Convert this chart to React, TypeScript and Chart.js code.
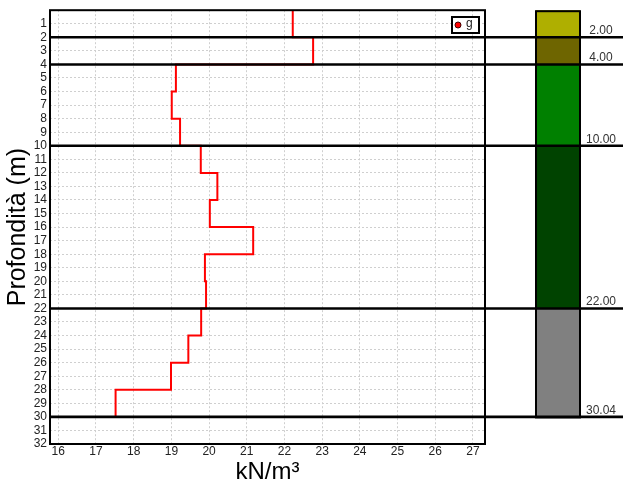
import { useEffect, useRef } from 'react';
import { Chart, registerables } from 'chart.js';

Chart.register(...registerables);

// Depth profile of unit weight (kN/m³), one value per 2 m interval
const intervalTops = [0, 2, 4, 6, 8, 10, 12, 14, 16, 18, 20, 22, 24, 26, 28];
const profileBottom = 30;
const gammaValues = [22.22, 22.76, 19.12, 19.01, 19.23, 19.78, 20.22, 20.02, 21.17, 19.89, 19.92, 19.79, 19.45, 18.99, 17.52];
const seriesLabel = 'g';

// Axes
const xMin = 15.78;
const xMax = 27.32;
const depthMin = 0;
const depthMax = 32;

// Stratigraphy column
const strataBottoms = [2, 4, 10, 22, 30.04];
const strataLabels = ['2.00', '4.00', '10.00', '22.00', '30.04'];
const strataColors = ['#AFAF00', '#6E6500', '#008000', '#004300', '#808080'];
const boundaryDepths = [2, 4, 10, 22, 30];

const FONT = 'Arial, "Liberation Sans", sans-serif';

export default function App() {
  const ref = useRef<HTMLCanvasElement | null>(null);

  useEffect(() => {
    if (!ref.current) return;

    const pts: { x: number; y: number }[] = [];
    intervalTops.forEach((top, i) => {
      const bottom = i + 1 < intervalTops.length ? intervalTops[i + 1] : profileBottom;
      pts.push({ x: gammaValues[i], y: top });
      pts.push({ x: gammaValues[i], y: bottom });
    });

    const overlay = {
      id: 'overlay',
      afterDatasetsDraw(chart: any) {
        const { ctx, chartArea, scales } = chart;
        const ys = scales.y;
        const W = chart.width;
        ctx.save();
        // stratigraphy column
        const colL = 536;
        const colR = 580;
        let prev = 0;
        strataBottoms.forEach((b, i) => {
          const y0 = ys.getPixelForValue(prev);
          const y1 = ys.getPixelForValue(b);
          ctx.fillStyle = strataColors[i];
          ctx.fillRect(colL, y0, colR - colL, y1 - y0);
          prev = b;
        });
        ctx.strokeStyle = '#000';
        ctx.lineWidth = 2;
        const colTop = ys.getPixelForValue(0);
        const colBot = ys.getPixelForValue(strataBottoms[strataBottoms.length - 1]);
        ctx.strokeRect(colL, colTop + 1, colR - colL, colBot - colTop - 1);
        // boundary lines
        ctx.lineWidth = 2.6;
        boundaryDepths.forEach((d) => {
          const y = ys.getPixelForValue(d);
          ctx.beginPath();
          ctx.moveTo(chartArea.left, y);
          ctx.lineTo(W, y);
          ctx.stroke();
        });
        // strata labels
        ctx.fillStyle = '#333';
        ctx.font = `12px ${FONT}`;
        ctx.textAlign = 'center';
        ctx.textBaseline = 'alphabetic';
        strataBottoms.forEach((b, i) => {
          const y = ys.getPixelForValue(b);
          ctx.fillText(strataLabels[i], 601, y - 3);
        });
        // plot frame
        ctx.lineWidth = 2;
        ctx.strokeStyle = '#000';
        ctx.strokeRect(chartArea.left, chartArea.top, chartArea.right - chartArea.left, chartArea.bottom - chartArea.top);
        // legend
        const lx = 452, ly = 17, lw = 27, lh = 16;
        ctx.fillStyle = '#fff';
        ctx.fillRect(lx, ly, lw, lh);
        ctx.lineWidth = 2;
        ctx.strokeRect(lx, ly, lw, lh);
        ctx.beginPath();
        ctx.arc(lx + 6, ly + 8, 3, 0, Math.PI * 2);
        ctx.fillStyle = '#ff0000';
        ctx.fill();
        ctx.lineWidth = 1;
        ctx.strokeStyle = '#400000';
        ctx.stroke();
        ctx.fillStyle = '#222';
        ctx.textAlign = 'left';
        ctx.textBaseline = 'middle';
        ctx.font = `12px ${FONT}`;
        ctx.fillText(chart.data.datasets[0].label, lx + 14, ly + 7);
        ctx.restore();
      },
    };

    const chart = new Chart(ref.current, {
      type: 'line',
      data: {
        datasets: [
          {
            label: seriesLabel,
            data: pts,
            borderColor: '#ff0000',
            borderWidth: 2,
            pointRadius: 0,
            fill: false,
            tension: 0,
          },
        ],
      },
      options: {
        animation: false,
        responsive: false,
        layout: { padding: { left: 0, top: 9, right: 138, bottom: 0 } },
        plugins: { legend: { display: false }, tooltip: { enabled: false } },
        scales: {
          x: {
            type: 'linear',
            min: xMin,
            max: xMax,
            border: { display: false, dash: [2, 2] },
            grid: { color: '#cfcfcf', lineWidth: 1, drawTicks: false },
            ticks: {
              stepSize: 1,
              includeBounds: false,
              padding: 0,
              color: '#222',
              font: { family: FONT, size: 12 },
              maxRotation: 0,
            },
            title: {
              display: true,
              text: 'kN/m³',
              color: '#000',
              font: { family: FONT, size: 24 },
              padding: { top: 0, bottom: -3 },
            },
            afterFit(scale: any) {
              scale.height = 40;
            },
          } as any,
          y: {
            type: 'linear',
            reverse: true,
            min: depthMin,
            max: depthMax,
            border: { display: false, dash: [2, 2] },
            grid: { color: '#cfcfcf', lineWidth: 1, drawTicks: false },
            ticks: {
              stepSize: 1,
              autoSkip: false,
              padding: 3,
              color: '#222',
              font: { family: FONT, size: 12 },
              callback: (v: any) => (v === 0 ? '' : String(v)),
            },
            title: {
              display: true,
              text: 'Profondità (m)',
              color: '#000',
              font: { family: FONT, size: 25 },
              padding: { top: 3, bottom: 0 },
            },
            afterFit(scale: any) {
              scale.width = 50;
            },
          } as any,
        },
      },
      plugins: [overlay],
    });

    return () => chart.destroy();
  }, []);

  return (
    <div style={{ position: 'absolute', left: 0, top: 0, width: 623, height: 484, background: '#fff' }}>
      <canvas ref={ref} width={623} height={484} style={{ width: 623, height: 484, display: 'block' }} />
    </div>
  );
}
